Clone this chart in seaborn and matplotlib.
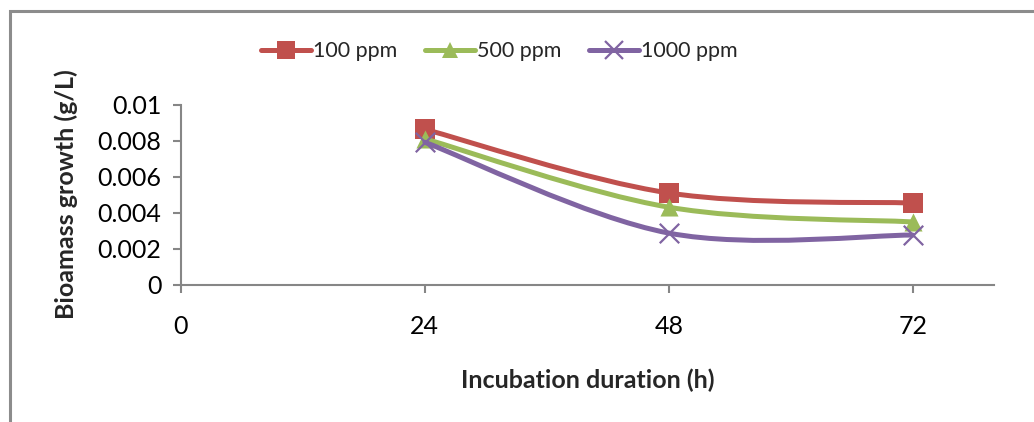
import numpy as np
import pandas as pd
import matplotlib
matplotlib.use("Agg")
import matplotlib.pyplot as plt
from matplotlib.path import Path
from matplotlib.patches import PathPatch, Rectangle
from matplotlib.lines import Line2D
import seaborn as sb

# data
hours = [24, 48, 72]
ppm100 = [0.00863, 0.00509, 0.00453]
ppm500 = [0.00810, 0.00430, 0.00348]
ppm1000 = [0.00791, 0.00286, 0.00275]
labels = ["100 ppm", "500 ppm", "1000 ppm"]
x_ticks = [0, 24, 48, 72]
y_ticks = [0, 0.002, 0.004, 0.006, 0.008, 0.01]
y_tick_labels = ["0", "0.002", "0.004", "0.006", "0.008", "0.01"]

colors = ["#C0504D", "#9BBB59", "#8064A2"]
markers = ["s", "^", "x"]
msizes = [14, 13, 14]

sb.set_style("white")
plt.rcParams["font.family"] = ["Lato", "DejaVu Sans"]

fig = plt.figure(figsize=(10.34, 4.22), dpi=100)
ax = fig.add_axes([0.175, 0.3258, 0.7863, 0.4261])


def smooth_path(xs, ys):
    # excel style smoothed line (catmull-rom as cubic bezier)
    pts = np.column_stack([xs, ys]).astype(float)
    ext = np.vstack([pts[0], pts, pts[-1]])
    verts = [tuple(pts[0])]
    codes = [Path.MOVETO]
    for i in range(1, len(ext) - 2):
        p0, p1, p2, p3 = ext[i - 1], ext[i], ext[i + 1], ext[i + 2]
        c1 = p1 + (p2 - p0) / 6
        c2 = p2 - (p3 - p1) / 6
        verts += [tuple(c1), tuple(c2), tuple(p2)]
        codes += [Path.CURVE4] * 3
    return Path(verts, codes)


series = [ppm100, ppm500, ppm1000]
for i, vals in enumerate(series):
    patch = PathPatch(smooth_path(hours, vals), fill=False, edgecolor=colors[i],
                      lw=3.6, zorder=3 + 2 * i, capstyle="round", joinstyle="round")
    ax.add_patch(patch)
    df = pd.DataFrame({"h": hours, "v": vals})
    if markers[i] == "x":
        sb.scatterplot(data=df, x="h", y="v", marker="x", color=colors[i], s=msizes[i] ** 2,
                       linewidth=1.6, ax=ax, legend=False, zorder=4 + 2 * i)
    else:
        sb.scatterplot(data=df, x="h", y="v", marker=markers[i], color=colors[i], s=msizes[i] ** 2,
                       linewidth=0, ax=ax, legend=False, zorder=4 + 2 * i)

ax.set_xlim(0, 80)
ax.set_ylim(0, 0.01)
ax.set_xticks(x_ticks)
ax.set_xticklabels([str(t) for t in x_ticks])
ax.set_yticks(y_ticks)
ax.set_yticklabels(y_tick_labels)

for s in ["top", "right"]:
    ax.spines[s].set_visible(False)
for s in ["left", "bottom"]:
    ax.spines[s].set_color("#868686")
    ax.spines[s].set_linewidth(1.5)
ax.tick_params(axis="both", direction="out", length=6, width=1.5, color="#868686",
               labelsize=18, labelcolor="black", bottom=True, left=True)
ax.tick_params(axis="x", pad=16)
ax.tick_params(axis="y", pad=8)

ax.set_xlabel("Incubation duration (h)", fontsize=18, fontweight="bold", labelpad=22)
ax.set_ylabel("Bioamass growth (g/L)", fontsize=18, fontweight="bold", labelpad=14)

handles = [Line2D([0], [0], color=colors[i], lw=3.6, marker=markers[i], markersize=msizes[i] - 1,
                  markeredgewidth=1.6 if markers[i] == "x" else 0, markeredgecolor=colors[i])
           for i in range(3)]
fig.legend(handles, labels, loc="center", bbox_to_anchor=(0.483, 0.878), ncol=3, frameon=False,
           fontsize=15.5, handlelength=2.3, handletextpad=0.1, columnspacing=1.3)

# chart border like the office chart area
fig.patches.append(Rectangle((10 / 1034, -0.2), 1.5, 1.2 - 11 / 422, transform=fig.transFigure,
                             fill=False, edgecolor="#8c8c8c", lw=2.2))

fig.savefig("out.png", dpi=100)
